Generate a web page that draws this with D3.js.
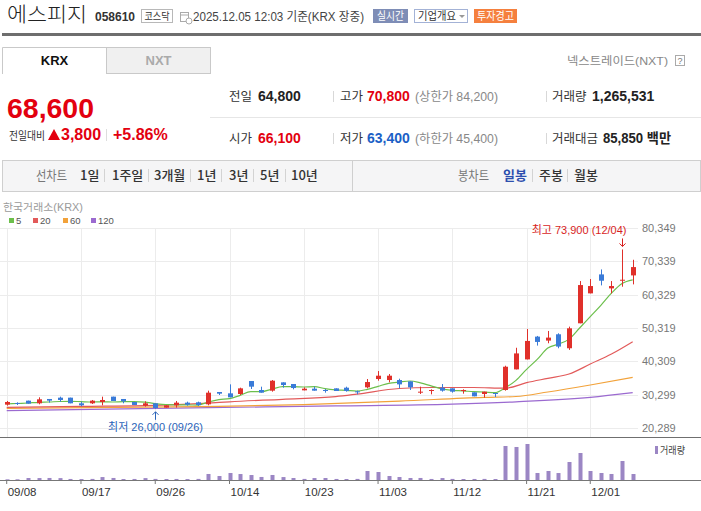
<!DOCTYPE html>
<html><head><meta charset="utf-8">
<script src="https://cdn.jsdelivr.net/npm/d3@7"></script>
<style>
html,body{margin:0;padding:0;background:#fff;}
svg{display:block;font-family:'Liberation Sans','Noto Sans CJK KR',sans-serif;}
</style></head><body>
<svg id="c" width="701" height="511"></svg>
<script>
// ---------- data ----------
const dates = ["09/08","09/09","09/10","09/11","09/12","09/15","09/16","09/17","09/18","09/19",
  "09/22","09/23","09/24","09/25","09/26","09/29","09/30","10/01","10/02","10/10",
  "10/13","10/14","10/15","10/16","10/17","10/20","10/21","10/22","10/23","10/24",
  "10/27","10/28","10/29","10/30","10/31","11/03","11/04","11/05","11/06","11/07",
  "11/10","11/11","11/12","11/13","11/14","11/17","11/18","11/19","11/20","11/21",
  "11/24","11/25","11/26","11/27","11/28","12/01","12/02","12/03","12/04","12/05"];
const xTickLabels = ["09/08","09/17","09/26","10/14","10/23","11/03","11/12","11/21","12/01"];
const yTickValues = [20289,30299,40309,50319,60329,70339,80349];

const open  = [27250,27750,28450,27650,28950,29350,29350,27650,27650,28050,
  29650,28950,28050,26950,27650,26350,27050,27850,27950,27350,
  31050,30650,30450,34350,31650,31450,33950,33450,31550,32050,
  31650,32150,32350,31250,32450,34950,34650,34650,34250,30850,
  31350,32350,32150,31450,30950,30450,30750,31650,37850,40850,
  47700,46500,48400,44200,51700,60700,66400,62200,64500,66100];
const high  = [28350,27950,28450,29450,28950,29650,29350,28150,28650,29650,
  29650,28950,28050,28250,27650,27050,28350,28150,28150,31450,
  31050,33350,32350,34350,32650,34650,33950,33450,32450,32650,
  31950,32150,32650,31450,34950,37350,36450,35050,34250,32650,
  31850,33450,32150,31850,30950,31150,30750,38950,44350,50000,
  47900,49400,48700,50700,64400,65000,67900,64400,73900,70800];
const low   = [26950,27150,27550,27350,27850,28150,27650,26750,27450,27050,
  28350,27650,27150,26650,26000,26350,26350,26950,26850,27050,
  30150,29450,30150,31950,30850,31150,32350,31850,31550,31450,
  30850,31350,31150,30350,32150,34450,33950,32150,31650,30450,
  30350,31150,30850,30550,29750,29350,29550,31450,37850,40850,
  45000,45700,44200,43700,51700,60700,63100,60700,62700,63400];
const close = [28050,27450,27550,28850,28450,28650,27650,27050,28450,28650,
  28350,28250,27150,27650,26250,27050,27850,27250,27150,30850,
  30550,29450,32150,32650,30850,34450,33150,32250,32050,31450,
  31450,31350,31350,30950,34050,35950,35950,33350,32450,31150,
  31650,31450,31150,31650,29750,31150,30450,38650,42650,46400,
  46100,47400,44700,50200,63200,62900,64500,62900,64800,68600];
const volume = [140000,150000,420000,410000,430000,400000,220000,200000,230000,620000,
  430000,210000,220000,400000,230000,210000,220000,200000,230000,1270000,
  840000,1480000,1260000,1050000,640000,1060000,620000,420000,230000,410000,
  420000,220000,210000,230000,1900000,1690000,840000,630000,420000,430000,
  220000,410000,230000,210000,220000,230000,210000,7180000,6970000,7600000,
  1480000,1900000,1470000,3800000,5700000,1900000,1480000,1270000,4010000,1265531];

// moving averages
const ma5 = [27450,27600,27750,27950,28050,28200,28250,28150,28050,28100,
  28050,28150,28150,28000,27550,27250,27200,27200,27100,28050,
  28750,29050,30050,31150,31150,31900,32650,32650,32550,32650,
  32050,31700,31550,31300,31850,32750,33650,34050,34350,33800,
  32900,32000,31550,31400,31150,31050,30850,32350,34550,37850,
  40850,44250,45450,46950,50300,53700,57100,60750,63650,64750];
const ma20 = [[0,26450],[7,26750],[14,27050],[19,27700],[21,28100],[26,28850],[31,29650],
  [33,30400],[37,32100],[40,32400],[44,32400],[47,32200],[49,33850],[51,35150],
  [53,36450],[55,39450],[57,42450],[59,46150]];
const ma60 = [[0,26150],[18,26650],[28,27250],[37,28300],[45,29450],[48,29700],
  [51,31050],[55,33150],[59,35450]];
const ma120 = [[0,25450],[19,26350],[31,26850],[42,27400],[48,28100],[55,29450],[59,30850]];
const maNames = ["5","20","60","120"];
const maColors = ["#6cbf4c","#e25a5a","#f2a23a","#9b6ad0"];

// ---------- drawing ----------
const svg = d3.select("#c");
const KR = "'Noto Sans CJK KR',sans-serif";
const NUM = "'Liberation Sans','Noto Sans CJK KR',sans-serif";
const RED = "#e3000f", BLUE = "#1b5fc6";

function txt(g, s, x, yy, o = {}) {
  const t = g.append("text").attr("x", x).attr("y", yy).text(s)
    .attr("font-size", o.size || 12).attr("fill", o.fill || "#333")
    .attr("font-family", o.family || NUM);
  if (o.weight) t.attr("font-weight", o.weight);
  if (o.anchor) t.attr("text-anchor", o.anchor);
  if (o.len) t.attr("textLength", o.len).attr("lengthAdjust", "spacingAndGlyphs");
  if (o.ls) t.attr("letter-spacing", o.ls);
  return t;
}

// header
const H = svg.append("g");
txt(H, "에스피지", 7, 21.5, {size: 20, fill: "#222", family: KR, weight: 300, len: 80});
txt(H, "058610", 95, 20.5, {size: 12, weight: "bold", fill: "#333"});
H.append("rect").attr("x", 141.5).attr("y", 9.5).attr("width", 31).attr("height", 13)
  .attr("fill", "#fff").attr("stroke", "#b8b8b8");
txt(H, "코스닥", 157, 19.5, {size: 10, anchor: "middle", family: KR, fill: "#333", len: 25});
// calendar icon
H.append("rect").attr("x", 180.5).attr("y", 12.5).attr("width", 8).attr("height", 9)
  .attr("fill", "none").attr("stroke", "#aaa");
H.append("line").attr("x1", 180.5).attr("x2", 188.5).attr("y1", 15).attr("y2", 15).attr("stroke", "#aaa");
H.append("circle").attr("cx", 189).attr("cy", 21).attr("r", 3).attr("fill", "#fff").attr("stroke", "#aaa");
txt(H, "2025.12.05 12:03 기준(KRX 장중)", 193, 20.5, {size: 12, fill: "#444", len: 171});
H.append("rect").attr("x", 373).attr("y", 9).attr("width", 35).attr("height", 14).attr("fill", "#7e8db6");
txt(H, "실시간", 390.5, 20, {size: 11, anchor: "middle", fill: "#fff", family: KR, len: 27});
H.append("rect").attr("x", 414.5).attr("y", 9.5).attr("width", 53).attr("height", 13)
  .attr("fill", "#fff").attr("stroke", "#a3b2d6");
txt(H, "기업개요", 418, 20, {size: 11, fill: "#333", family: KR, len: 38});
H.append("path").attr("d", "M459,15 L465,15 L462,18 Z").attr("fill", "#999");
H.append("rect").attr("x", 474).attr("y", 9).attr("width", 43).attr("height", 14).attr("fill", "#f5803e");
txt(H, "투자경고", 495.5, 20, {size: 11, anchor: "middle", fill: "#fff", family: KR, len: 37});
H.append("rect").attr("x", 2).attr("y", 33).attr("width", 699).attr("height", 3).attr("fill", "#6e6e6e");

// tabs
H.append("rect").attr("x", 106.5).attr("y", 47.5).attr("width", 104).attr("height", 26)
  .attr("fill", "#f0f0f0").attr("stroke", "#c9c9c9");
H.append("path").attr("d", "M2.5,74 L2.5,47.5 L106.5,47.5").attr("fill", "none").attr("stroke", "#c9c9c9");
txt(H, "KRX", 54.5, 65, {size: 13, weight: "bold", anchor: "middle", fill: "#111"});
txt(H, "NXT", 158.5, 65, {size: 13, weight: "bold", anchor: "middle", fill: "#aaa"});
txt(H, "넥스트레이드(NXT)", 567, 64.5, {size: 11, fill: "#888", len: 101});
H.append("rect").attr("x", 675.5).attr("y", 55.5).attr("width", 9).attr("height", 10)
  .attr("fill", "#fff").attr("stroke", "#aaa");
txt(H, "?", 680, 64, {size: 9, anchor: "middle", fill: "#777"});

// price block
txt(H, "68,600", 7, 118, {size: 28, weight: "bold", fill: RED, len: 87});
txt(H, "전일대비", 9, 139.5, {size: 11, fill: "#333", family: KR, len: 36});
H.append("path").attr("d", "M48,140 L54,129 L60,140 Z").attr("fill", RED);
txt(H, "3,800", 61, 140, {size: 16, weight: "bold", fill: RED});
H.append("line").attr("x1", 106.5).attr("x2", 106.5).attr("y1", 129).attr("y2", 141).attr("stroke", "#ddd");
txt(H, "+5.86%", 113, 140, {size: 16, weight: "bold", fill: RED});

// info table
H.append("line").attr("x1", 210).attr("x2", 701).attr("y1", 117.5).attr("y2", 117.5).attr("stroke", "#e6e6e6");
[333.5, 546.5].forEach(sx => [[91, 102], [133, 144]].forEach(([a, b]) =>
  H.append("line").attr("x1", sx).attr("x2", sx).attr("y1", a).attr("y2", b).attr("stroke", "#d8d8d8")));
const lab = {size: 12.5, fill: "#333", family: KR};
txt(H, "전일", 229, 101, lab);
txt(H, "64,800", 258, 101, {size: 14, weight: "bold", fill: "#222"});
txt(H, "고가", 340, 101, lab);
txt(H, "70,800", 367, 101, {size: 14, weight: "bold", fill: RED});
txt(H, "(상한가 84,200)", 415, 101, {size: 12, fill: "#888", len: 83});
txt(H, "거래량", 552, 101, lab);
txt(H, "1,265,531", 592, 101, {size: 14, weight: "bold", fill: "#222"});
txt(H, "시가", 229, 143, lab);
txt(H, "66,100", 258, 143, {size: 14, weight: "bold", fill: RED});
txt(H, "저가", 340, 143, lab);
txt(H, "63,400", 367, 143, {size: 14, weight: "bold", fill: BLUE});
txt(H, "(하한가 45,400)", 415, 143, {size: 12, fill: "#888", len: 83});
txt(H, "거래대금", 552, 143, lab);
txt(H, "85,850 백만", 603, 143, {size: 14, weight: "bold", fill: "#222", len: 68});

// period bar
H.append("rect").attr("x", 2.5).attr("y", 160.5).attr("width", 698).attr("height", 31)
  .attr("fill", "#f5f5f6").attr("stroke", "#cfcfcf");
H.append("line").attr("x1", 352.5).attr("x2", 352.5).attr("y1", 161).attr("y2", 191).attr("stroke", "#cfcfcf");
const per = {size: 13, fill: "#333", family: KR, weight: 500};
txt(H, "선차트", 36, 180, {size: 13, fill: "#777", family: KR, len: 31});
[["1일", 80], ["1주일", 112], ["3개월", 154], ["1년", 197], ["3년", 229], ["5년", 260], ["10년", 291]]
  .forEach(([s, px]) => txt(H, s, px, 180, per));
[104, 148, 190, 221, 253, 285, 532, 567].forEach(sx =>
  H.append("line").attr("x1", sx + 0.5).attr("x2", sx + 0.5).attr("y1", 169).attr("y2", 182).attr("stroke", "#d3d3d3"));
txt(H, "봉차트", 458, 180, {size: 13, fill: "#777", family: KR, len: 31});
txt(H, "일봉", 503, 180, {size: 13, fill: "#2d4fae", family: KR, weight: 700});
txt(H, "주봉", 539, 180, per);
txt(H, "월봉", 574, 180, per);

// ---------- chart ----------
const x = d3.scaleBand().domain(dates).range([1.4, 638]).paddingInner(0).paddingOuter(0);
const xc = d => x(d) + x.bandwidth() / 2;
const y = d3.scaleLinear().domain([20289, 80349]).range([427.8, 228]);
const yv = d3.scaleLinear().domain([0, 7600000]).range([480, 444]);

const C = svg.append("g");
txt(C, "한국거래소(KRX)", 3, 210.5, {size: 10.5, fill: "#9a9a9a", len: 80});
maNames.forEach((n, i) => {
  const lx = [9, 33, 63, 91][i];
  C.append("rect").attr("x", lx).attr("y", 218).attr("width", 5).attr("height", 5).attr("fill", maColors[i]);
  txt(C, n, lx + 7, 224, {size: 9.5, fill: "#555"});
});

// grid
C.append("g").selectAll("line").data(yTickValues).join("line")
  .attr("x1", 0).attr("x2", 638)
  .attr("y1", d => Math.round(y(d)) + 0.5).attr("y2", d => Math.round(y(d)) + 0.5)
  .attr("stroke", "#ececec");
C.append("g").selectAll("line").data(xTickLabels).join("line")
  .attr("x1", d => Math.round(xc(d)) + 0.5).attr("x2", d => Math.round(xc(d)) + 0.5)
  .attr("y1", 228).attr("y2", 437).attr("stroke", "#ececec");

// y axis
const ya = C.append("g").attr("transform", "translate(640,0)")
  .call(d3.axisRight(y).tickValues(yTickValues).tickSize(0).tickPadding(2).tickFormat(d3.format(",")));
ya.select(".domain").remove();
ya.selectAll("text").attr("font-size", 11).attr("fill", "#777").attr("font-family", NUM);

// moving averages
const lineIdx = d3.line().x(d => xc(dates[d[0]])).y(d => y(d[1])).curve(d3.curveMonotoneX);
[ma120, ma60, ma20].forEach((arr, k) => {
  C.append("path").attr("d", lineIdx(arr)).attr("fill", "none")
    .attr("stroke", [maColors[3], maColors[2], maColors[1]][k]).attr("stroke-width", 1.2);
});
C.append("path").attr("d", lineIdx(ma5.map((v, i) => [i, v]))).attr("fill", "none")
  .attr("stroke", maColors[0]).attr("stroke-width", 1.2);

// candles
const idx = d3.range(dates.length);
const cg = C.append("g");
const col = i => close[i] >= open[i] ? "#e0302a" : "#3a7bd8";
cg.selectAll("line").data(idx).join("line")
  .attr("x1", i => Math.round(xc(dates[i])) + 0.5).attr("x2", i => Math.round(xc(dates[i])) + 0.5)
  .attr("y1", i => y(high[i])).attr("y2", i => y(low[i])).attr("stroke", col);
cg.selectAll("rect").data(idx).join("rect")
  .attr("x", i => Math.round(xc(dates[i])) - 2)
  .attr("width", 5)
  .attr("y", i => y(Math.max(open[i], close[i])))
  .attr("height", i => Math.max(1, Math.abs(y(open[i]) - y(close[i]))))
  .attr("fill", col);

// high / low markers
const hi = d3.maxIndex(high), lo = d3.minIndex(low);
const hx = Math.round(xc(dates[hi])) + 0.5, lx = Math.round(xc(dates[lo])) + 0.5;
const hy = y(high[hi]) - 3, ly = y(low[lo]) + 3;
C.append("path").attr("d", `M${hx},${hy - 8} L${hx},${hy} M${hx - 3},${hy - 3} L${hx},${hy} L${hx + 3},${hy - 3}`)
  .attr("fill", "none").attr("stroke", "#d81e1e");
txt(C, `최고 ${d3.format(",")(high[hi])} (${dates[hi]})`, hx + 4, hy - 12, {size: 11, fill: "#d81e1e", anchor: "end"});
C.append("path").attr("d", `M${lx},${ly + 8} L${lx},${ly} M${lx - 3},${ly + 3} L${lx},${ly} L${lx + 3},${ly + 3}`)
  .attr("fill", "none").attr("stroke", "#2a63b8");
txt(C, `최저 ${d3.format(",")(low[lo])} (${dates[lo]})`, lx, ly + 19, {size: 11, fill: "#2a63b8", anchor: "middle"});

// panel separator
C.append("line").attr("x1", 0).attr("x2", 701).attr("y1", 437.5).attr("y2", 437.5).attr("stroke", "#6f6f6f").attr("stroke-width", 1.2);

// volume
C.append("g").selectAll("rect").data(idx).join("rect")
  .attr("x", i => Math.round(xc(dates[i])) - 1.5).attr("width", 4)
  .attr("y", i => yv(volume[i])).attr("height", i => 480 - yv(volume[i]))
  .attr("fill", "#9b86c4");
C.append("rect").attr("x", 655).attr("y", 446).attr("width", 3).attr("height", 8).attr("fill", "#9b86c4");
txt(C, "거래량", 660, 454, {size: 10, fill: "#444", family: KR, len: 25});

// x axis
const xa = C.append("g").attr("transform", "translate(0,480)")
  .call(d3.axisBottom(x).tickValues(xTickLabels).tickSize(4));
xa.select(".domain").remove();
xa.selectAll(".tick line").attr("stroke", "#777");
xa.selectAll("text").attr("text-anchor", "start").attr("x", 1).attr("y", 16).attr("dy", 0)
  .attr("font-size", 11.5).attr("fill", "#333").attr("font-family", NUM);
C.append("line").attr("x1", 0).attr("x2", 701).attr("y1", 480.5).attr("y2", 480.5).attr("stroke", "#777");
</script>
</body></html>
